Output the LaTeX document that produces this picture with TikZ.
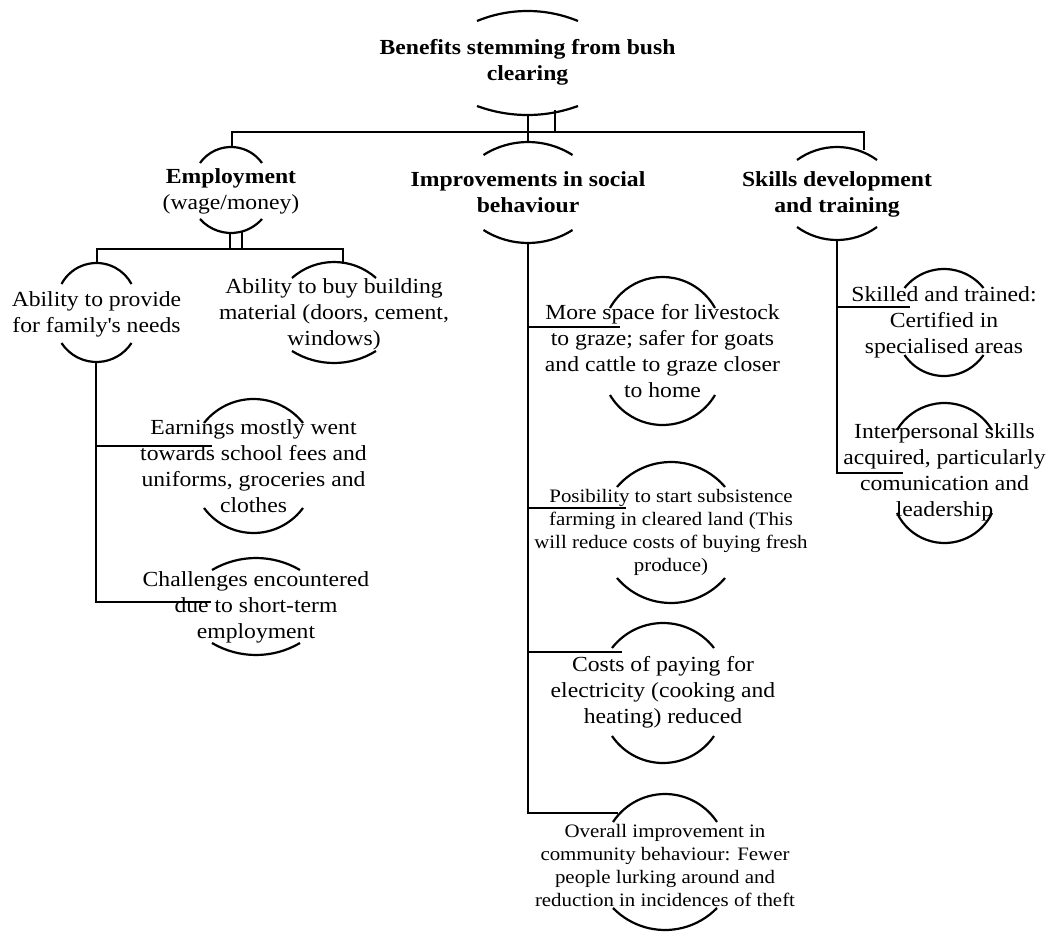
\documentclass[tikz,border=0pt]{standalone}
\usepackage{fontspec}
\setmainfont{Liberation Serif}[FakeStretch=1.1]

% top and bottom lids of a node: name, half width, top offset, top rise, bottom offset, bottom dip
\newcommand\lidarcs[6]{%
  \pgfmathsetmacro\lidRt{(#2*#2+#4*#4)/(2*#4)}
  \pgfmathsetmacro\lidAt{asin(#2/\lidRt)}
  \pgfmathsetmacro\lidRb{(#2*#2+#6*#6)/(2*#6)}
  \pgfmathsetmacro\lidAb{asin(#2/\lidRb)}
  \draw ([shift={(-#2,-#3)}]#1.center) arc[start angle=90+\lidAt, end angle=90-\lidAt, radius=\lidRt pt];
  \draw ([shift={(-#2,#5)}]#1.center) arc[start angle=270-\lidAb, end angle=270+\lidAb, radius=\lidRb pt];
}

\begin{document}
\begin{tikzpicture}[
        x=1pt, y=-1pt,
        line width=2.2pt,
        idea/.style={align=center, inner sep=0pt, font=\fontsize{21.5}{26}\selectfont},
        head/.style={idea, font=\fontsize{21.5}{26}\selectfont\bfseries},
        small/.style={idea, font=\fontsize{19}{23}\selectfont}
    ]
    \useasboundingbox (0,0) rectangle (1049,936);

    % nodes
    \node[head] (root) at (527.5,62) {Benefits stemming from bush\\clearing};
    \node[idea] (emp) at (231,191) {\textbf{Employment}\\(wage/money)};
    \node[head] (impr) at (528,192) {Improvements in social\\behaviour};
    \node[head] (skl) at (837,194) {Skills development\\and training};
    \node[idea] (prov) at (96.5,314) {Ability to provide\\for family\textquotesingle s needs};
    \node[idea] (buy) at (334,314) {Ability to buy building\\material (doors, cement,\\windows)};
    \node[idea] (earn) at (253.5,466) {Earnings mostly went\\towards school fees and\\uniforms, groceries and\\clothes};
    \node[idea] (chal) at (256,607) {Challenges encountered\\due to short-term\\employment};
    \node[idea] (space) at (662.5,351.5) {More space for livestock\\to graze; safer for goats\\and cattle to graze closer\\to home};
    \node[small] (posb) at (671,532.5) {Posibility to start subsistence\\farming in cleared land (This\\will reduce costs of buying fresh\\produce)};
    \node[idea] (cost) at (663,692) {Costs of paying for\\electricity (cooking and\\heating) reduced};
    \node[small] (over) at (665,865) {Overall improvement in\\community behaviour: Fewer\\people lurking around and\\reduction in incidences of theft};
    \node[idea] (skld) at (944,322) {Skilled and trained:\\Certified in\\specialised areas};
    \node[idea] (inter) at (944.5,472) {Interpersonal skills\\acquired, particularly\\comunication and\\leadership};

    % lids
    \lidarcs{root}{50.5}{41}{10}{44}{9}
    \lidarcs{emp}{31}{28}{16}{28}{14}
    \lidarcs{impr}{44.5}{37}{13}{38}{13}
    \lidarcs{skl}{40}{34}{13}{33}{13}
    \lidarcs{prov}{35}{30}{21}{29}{19}
    \lidarcs{buy}{42}{36}{16}{37}{12}
    \lidarcs{earn}{49.5}{43}{24}{42}{25}
    \lidarcs{chal}{44}{37}{12}{36}{12}
    \lidarcs{space}{52.5}{43.5}{31}{43.5}{30}
    \lidarcs{posb}{54}{45.5}{25}{45.5}{25}
    \lidarcs{cost}{51}{44}{25}{44}{27}
    \lidarcs{over}{52}{43}{28}{43}{22}
    \lidarcs{skld}{39.5}{34}{19}{33}{21}
    \lidarcs{inter}{47.5}{42}{27}{41}{30}

    % joints
    \coordinate (root-bot) at (528,115);
    \coordinate (root-r) at (555,110);
    \coordinate (hub) at (555,132);
    \coordinate (emp-top) at (232,147);
    \coordinate (skl-top) at (864,150);
    \coordinate (impr-top) at (528,142);
    \coordinate (emp-bot) at (230,233);
    \coordinate (emp-r) at (242,232);
    \coordinate (emp-hub) at (242,249);
    \coordinate (prov-top) at (97,263);
    \coordinate (buy-top) at (343,264);
    \coordinate (prov-bot) at (96,362);
    \coordinate (earn-in) at (212,446);
    \coordinate (chal-in) at (211,602);
    \coordinate (impr-bot) at (528,243);
    \coordinate (space-in) at (620,327);
    \coordinate (posb-in) at (626,508);
    \coordinate (cost-in) at (622,652);
    \coordinate (over-in) at (618,813);
    \coordinate (skl-bot) at (837,240);
    \coordinate (skld-in) at (910,307);
    \coordinate (inter-in) at (903,473);

    % connectors
    \draw (root-bot) -- (impr-top);
    \draw (root-r) -- (hub);
    \draw (emp-top) |- (hub);
    \draw (skl-top) |- (hub);
    \draw (emp-bot) -- (emp-bot |- emp-hub);
    \draw (emp-r) -- (emp-hub);
    \draw (prov-top) |- (emp-hub) -| (buy-top);
    \draw (prov-bot) |- (earn-in);
    \draw (prov-bot) |- (chal-in);
    \foreach \n in {space,posb,cost,over}
        \draw (impr-bot) |- (\n-in);
    \foreach \n in {skld,inter}
        \draw (skl-bot) |- (\n-in);
\end{tikzpicture}
\end{document}
